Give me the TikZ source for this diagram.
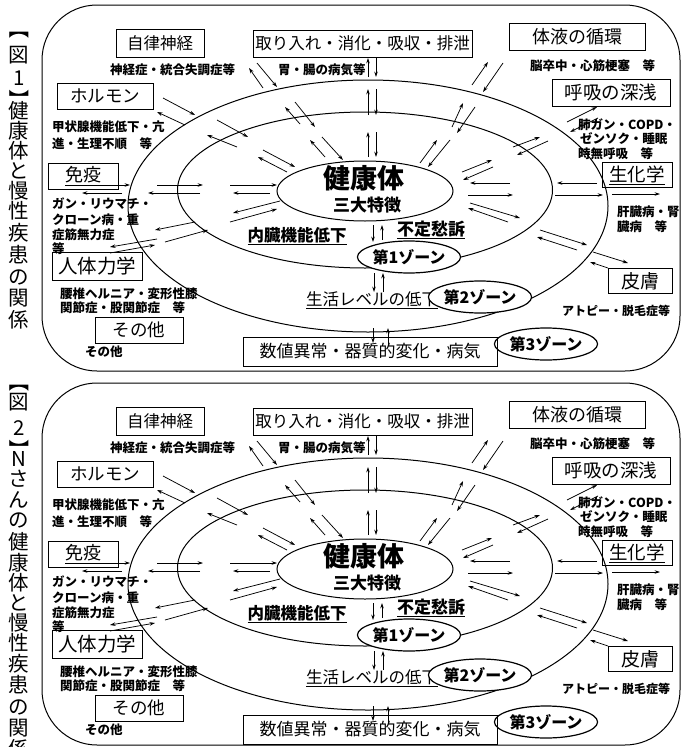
\documentclass[tikz,border=0pt]{standalone}
\usepackage{fontspec}
\setmainfont{Noto Sans CJK JP}
\usetikzlibrary{arrows.meta,shapes.geometric}
\tikzset{
  bx/.style={draw, line width=0.9pt, inner sep=0pt},
  sm/.style={inner sep=0pt, anchor=west, font=\fontsize{12.5}{14}\selectfont\bfseries},
  arr/.style={line width=0.75pt, -{Stealth[length=5.5pt,width=3.6pt]}},
  ring/.style={ellipse, draw, line width=1pt, inner sep=0pt},
  zone/.style={ellipse, draw, line width=1.2pt, fill=white, inner sep=0pt,
    minimum width=92pt, minimum height=32pt, font=\fontsize{16}{16}\selectfont\bfseries},
  ttl/.style={inner sep=0pt, font=\fontsize{20.5}{20.5}\selectfont},
  frame/.style={draw, line width=1pt, rounded corners=55pt},
}
\newcommand{\fs}[1]{\fontsize{#1}{#1}\selectfont}
\newcommand{\FigBody}{%
  % rings
  \node[ring, minimum width=480pt, minimum height=252pt] (outer) at (368,206) {};
  \node[ring, minimum width=375pt, minimum height=156pt] (mid) at (365,190) {};
  \node[ring, minimum width=176pt, minimum height=60pt] (core) at (365,191) {};
  % centre texts
  \node[inner sep=0pt, font=\fs{27}\bfseries] (kenko) at (364,178) {健康体};
  \node[inner sep=0pt, font=\fs{17}\bfseries] (sandai) at (367,205) {三大特徴};
  \node[inner sep=0pt, font=\fs{16.5}\bfseries] (naizo) at (297,236) {\underline{内臓機能低下}};
  \node[inner sep=0pt, font=\fs{17}\bfseries] (futei) at (431,230) {\underline{不定愁訴}};
  \node[inner sep=0pt, font=\fs{16.5}] (seikatsu) at (372,300) {\underline{生活レベルの低下}};
  % zones
  \node[zone] (z1) at (409,257) {第1ゾーン};
  \node[zone] (z2) at (480,297) {第2ゾーン};
  \node[zone] (z3) at (546,344) {第3ゾーン};
  % boxes
  \node[bx, minimum width=88pt, minimum height=28pt, font=\fs{16.5}] (jiritsu) at (160,43) {自律神経};
  \node[bx, minimum width=219pt, minimum height=27pt, font=\fs{16.5}] (toriire) at (362.5,43.5) {取り入れ・消化・吸収・排泄};
  \node[bx, minimum width=136pt, minimum height=27pt, font=\fs{18}] (taieki) at (577,37) {体液の循環};
  \node[bx, minimum width=96pt, minimum height=26pt, font=\fs{17.5}] (hormone) at (105,96) {ホルモン};
  \node[bx, minimum width=118pt, minimum height=27pt, font=\fs{18.5}] (kokyu) at (611,93) {呼吸の深浅};
  \node[bx, minimum width=70pt, minimum height=26pt, font=\fs{18}] (meneki) at (83,176) {\underline{免疫}};
  \node[bx, minimum width=70pt, minimum height=25pt, font=\fs{18.5}] (seika) at (637,175) {\underline{生化学}};
  \node[bx, minimum width=90pt, minimum height=28pt, font=\fs{19.5}] (jintai) at (97,266) {人体力学};
  \node[bx, minimum width=64pt, minimum height=25pt, font=\fs{19}] (hifu) at (640,281) {皮膚};
  \node[bx, minimum width=88pt, minimum height=26pt, font=\fs{17.5}] (sonota) at (139,330) {その他};
  \node[bx, minimum width=254pt, minimum height=29pt, font=\fs{17}] (suuchi) at (370,351.5) {数値異常・器質的変化・病気};
  % small labels
  \node[sm] (la) at (110,70) {神経症・統合失調症等};
  \node[sm] (lb) at (278,70) {胃・腸の病気等};
  \node[sm] (lc) at (530,66) {脳卒中・心筋梗塞　等};
  \node[sm] (ld1) at (52,127) {甲状腺機能低下・亢};
  \node[sm] (ld2) at (52,144) {進・生理不順　等};
  \node[sm] (le1) at (578,125) {肺ガン・COPD・};
  \node[sm] (le2) at (580,139) {ゼンソク・睡眠};
  \node[sm] (le3) at (578,154) {時無呼吸　等};
  \node[sm] (lf1) at (52,204) {ガン・リウマチ・};
  \node[sm] (lf2) at (52,219.5) {クローン病・重};
  \node[sm] (lf3) at (52,235) {症筋無力症};
  \node[sm] (lf4) at (52,249) {等};
  \node[sm] (lg1) at (617,212) {肝臓病・腎};
  \node[sm] (lg2) at (617,227) {臓病　等};
  \node[sm] (lh1) at (60,294) {腰椎ヘルニア・変形性膝};
  \node[sm] (lh2) at (60,308) {関節症・股関節症　等};
  \node[sm, font=\fs{12}\bfseries] (li) at (562,311) {アトピー・脱毛症等};
  \node[sm] (lj) at (85,352) {その他};
  % vertical arrows (top)
  \draw[arr] (368,77) -- (368,58);   \draw[arr] (376,58) -- (376,77);
  \draw[arr] (368,115) -- (368,89);  \draw[arr] (376,89) -- (376,115);
  \draw[arr] (368,157) -- (368,132); \draw[arr] (376,132) -- (376,157);
  % vertical arrows (bottom)
  \draw[arr] (373,225) -- (373,242); \draw[arr] (382,240) -- (382,225);
  \draw[arr] (374,273) -- (374,292); \draw[arr] (383,292) -- (383,273);
  \draw[arr] (373,328) -- (373,343); \draw[arr] (388,345) -- (388,328);
  % upper-left steep
  \draw[arr] (263,88) -- (249,68);   \draw[arr] (257,63) -- (277,87);
  \draw[arr] (300,124) -- (285,107); \draw[arr] (295,102) -- (315,127);
  \draw[arr] (325,157) -- (310,140); \draw[arr] (322,137) -- (343,160);
  % hormone direction
  \draw[arr] (163,98) -- (195,115);  \draw[arr] (185,125) -- (157,112);
  \draw[arr] (217,120) -- (248,137); \draw[arr] (237,147) -- (207,135);
  \draw[arr] (263,150) -- (295,167); \draw[arr] (287,172) -- (258,157);
  % left horizontal
  \draw[arr] (85,185) -- (130,185);  \draw[arr] (122,193) -- (82,193);
  \draw[arr] (157,185) -- (203,185); \draw[arr] (200,193) -- (148,193);
  \draw[arr] (230,185) -- (277,185); \draw[arr] (270,193) -- (233,193);
  % lower-left
  \draw[arr] (280,201) -- (233,213); \draw[arr] (230,222) -- (277,209);
  \draw[arr] (195,222) -- (155,230); \draw[arr] (165,242) -- (208,230);
  \draw[arr] (157,239) -- (110,247); \draw[arr] (110,253) -- (155,245);
  % upper-right steep
  \draw[arr] (472,85) -- (488,62);   \draw[arr] (503,63) -- (483,92);
  \draw[arr] (452,127) -- (463,103); \draw[arr] (475,107) -- (457,133);
  \draw[arr] (420,163) -- (437,140); \draw[arr] (450,140) -- (428,167);
  % right-upper shallow
  \draw[arr] (567,122) -- (597,107); \draw[arr] (598,118) -- (570,132);
  \draw[arr] (513,147) -- (540,137); \draw[arr] (548,141) -- (517,155);
  \draw[arr] (462,172) -- (492,160); \draw[arr] (493,167) -- (463,180);
  % right horizontal
  \draw[arr] (510,183) -- (470,183); \draw[arr] (468,195) -- (513,195);
  \draw[arr] (597,183) -- (557,183); \draw[arr] (555,195) -- (603,195);
  \draw[arr] (612,194) -- (660,194);
  % lower-right
  \draw[arr] (470,203) -- (520,218); \draw[arr] (508,222) -- (468,208);
  \draw[arr] (540,230) -- (587,245); \draw[arr] (577,250) -- (537,237);
  \draw[arr] (593,252) -- (628,263); \draw[arr] (608,268) -- (590,262);
}
\begin{document}
\begin{tikzpicture}[x=1pt,y=-1pt]
  \useasboundingbox (0,0) rectangle (684,747);
  \clip (0,0) rectangle (684,747);
  \fill[white] (0,0) rectangle (684,747);
  % titles (vertical writing)
  \node[ttl, rotate=-90] (ta0) at (19,29) {【};
  \node[ttl, rotate=-90] (ta9) at (19,100) {】};
  \foreach \c/\y [count=\i] in {図/55,1/78,健/111,康/131,体/151,と/171,慢/191,性/211,疾/233,患/255,の/277,関/298,係/320}
    \node[ttl] (ta\i) at (19,\y) {\c};
  \node[ttl, rotate=-90] (tb0) at (19,382) {【};
  \node[ttl, rotate=-90] (tb9) at (19,450) {】};
  \foreach \c/\y [count=\i] in {図/402,2/428,N/459,さ/479,ん/500,の/520,健/542,康/563,体/583,と/603,慢/623,性/643,疾/664,患/685,の/707,関/728,係/749}
    \node[ttl] (tb\i) at (19,\y) {\c};
  % frames
  \draw[frame] (42,5) rectangle (680,371);
  \draw[frame] (42,383) rectangle (680,745);
  \begin{scope}[name prefix=a-]
    \FigBody
  \end{scope}
  \begin{scope}[shift={(0,378)}, name prefix=b-]
    \FigBody
  \end{scope}
\end{tikzpicture}
\end{document}
